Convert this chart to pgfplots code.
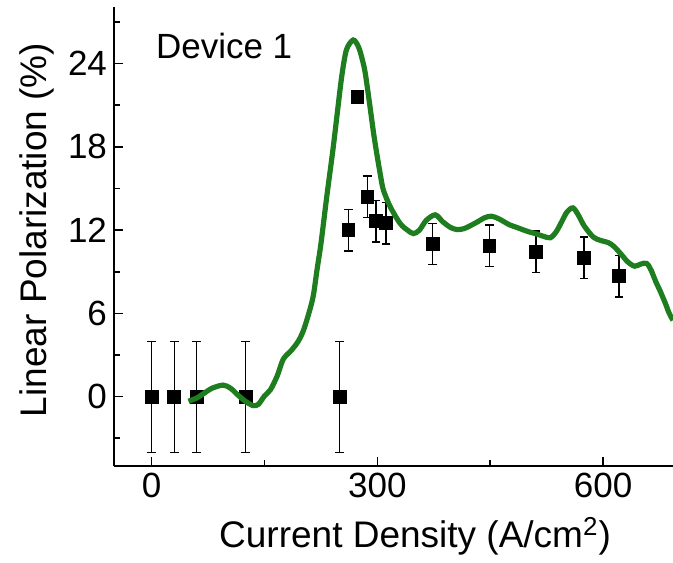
\documentclass[border=0pt]{standalone}
\usepackage{pgfplots}
\pgfplotsset{compat=1.18}
\usepackage{fontspec}
\setmainfont{Liberation Sans}
\definecolor{cgreen}{RGB}{30,125,30}
\begin{document}
\begin{tikzpicture}
\useasboundingbox (-57pt,-48pt) rectangle (279.5pt,233pt);
\begin{axis}[
  at={(0,0)}, anchor=south west,
  scale only axis, width=279.5pt, height=229.65pt,
  xmin=-50, xmax=693, ymin=-5, ymax=28.1,
  axis x line*=bottom, axis y line*=left,
  axis line style={line width=0.9pt},
  xtick={0,300,600}, minor xtick={150,450},
  ytick={0,6,12,18,24}, minor ytick={-3,3,9,15,21,27},
  major tick length=4.5pt, minor tick length=3pt,
  tick style={line width=0.8pt, black},
  tick align=inside,
  /pgf/number format/assume math mode=true,
  ticklabel style={font=\fontsize{17.5}{20}\selectfont},
  xlabel={Current Density (A/cm\textsuperscript{2})},
  ylabel={Linear Polarization (\%)},
  label style={font=\fontsize{18.5}{21}\selectfont},
  xlabel style={at={(rel axis cs:0.5385,0)}, yshift=-40.85pt, anchor=base},
  ylabel style={at={(rel axis cs:-0.1199,0.514)}, anchor=base},
  clip mode=individual,
]
\addplot[only marks, mark=square*, mark size=3.2pt, black,
  error bars/.cd, y dir=both, y explicit,
  error bar style={line width=0.6pt, black},
  error mark options={rotate=90, mark size=2.2pt, line width=0.6pt, black}]
  table[x=x, y=y, y error=e] {
x y e
0 0 4
30 0 4
60 0 4
125 0 4
250 0 4
261.5 12.0 1.5
273.5 21.6 0
286.8 14.4 1.5
298.3 12.65 1.5
311.6 12.5 1.5
373.7 11.0 1.5
449 10.87 1.5
511 10.43 1.5
574.7 10.0 1.5
621.3 8.68 1.5
};
\addplot[cgreen, line width=2.6pt, smooth, tension=0.5] coordinates {
(49,-0.33) (60,-0.1) (70,0.25) (80,0.6) (95,0.83) (105,0.6) (115,0.1) (125,-0.35)
(135,-0.65) (142,-0.55) (150,0.05) (158,0.5) (167,1.5) (175,2.7) (186,3.35)
(195,4.0) (202,4.8) (210,6.2) (215,7.3) (220,9.2) (225,11.0) (233,14.5) (241,17.8)
(248,21) (253,23.2) (259,25.0) (268,25.7) (275,25.2) (280,24.3) (284,23.3) (290,21)
(295,19) (299,17.6) (304,16.0) (308,14.9) (317,13.7) (330,12.5) (340,12.0) (348,11.75)
(356,12.0) (365,12.7) (377,13.1) (387,12.6) (397,12.2) (405,12.05) (415,12.1) (430,12.5)
(443,12.9) (452,13.0) (462,12.8) (475,12.4) (485,12.2) (500,11.9) (510,11.75) (521,11.55)
(530,11.45) (538,11.9) (545,12.6) (552,13.3) (560,13.6) (567,13.1) (575,12.3) (587,11.5)
(597,11.25) (607,11.1) (615,10.8) (625,10.2) (633,9.7) (642,9.4) (650,9.55) (658,9.6)
(664,9.1) (670,8.3) (676,7.6) (683,6.7) (688,6.0) (693,5.5)
};
\node[anchor=base west, font=\fontsize{17.5}{20}\selectfont] at (axis cs:-3.5,24.37) {Device 1};
\end{axis}
\end{tikzpicture}
\end{document}
